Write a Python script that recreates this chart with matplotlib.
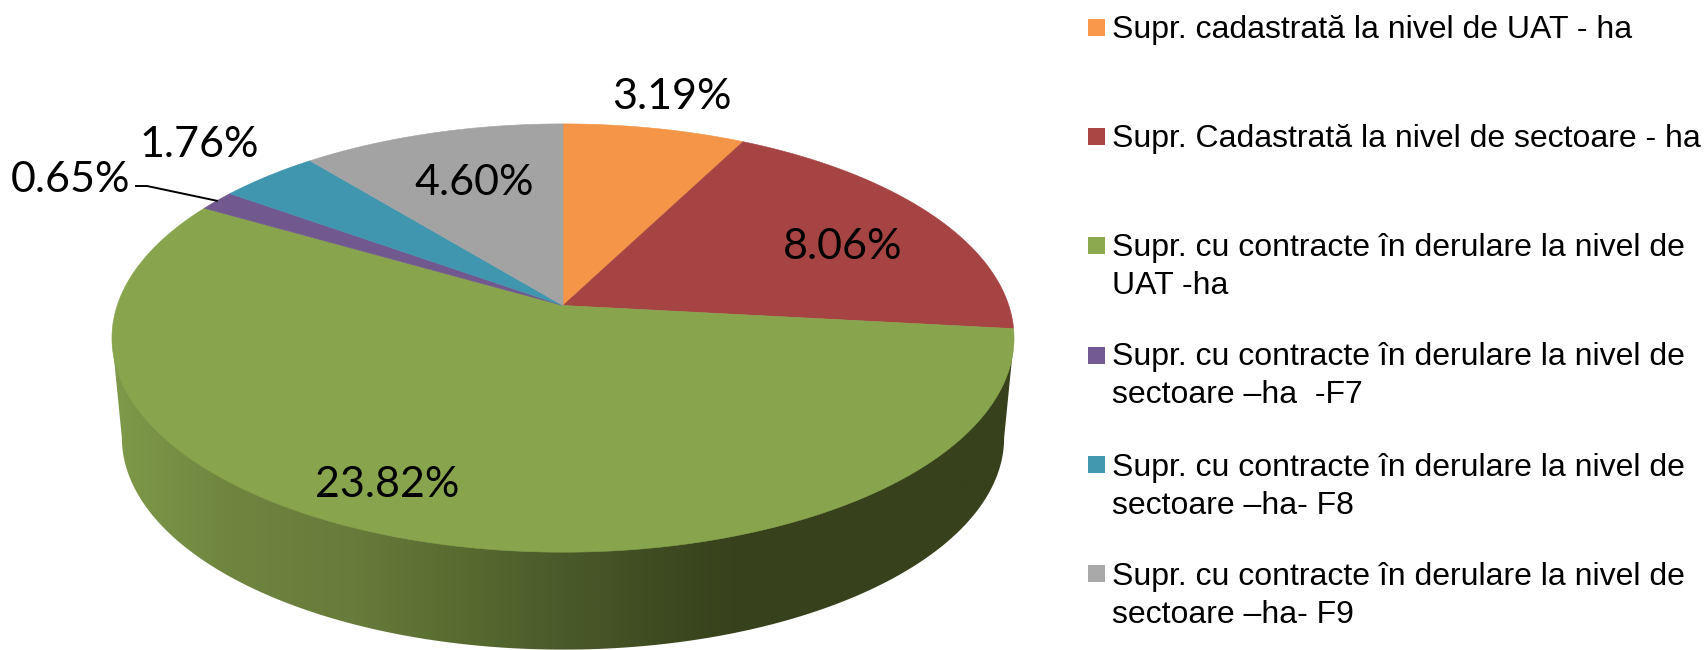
import numpy as np
import matplotlib
matplotlib.use('Agg')
import matplotlib.pyplot as plt
from matplotlib.colors import LinearSegmentedColormap
from matplotlib.patches import Polygon, Rectangle

# valori
values = [3.19, 8.06, 23.82, 0.65, 1.76, 4.60]
value_labels = ['3.19%', '8.06%', '23.82%', '0.65%', '1.76%', '4.60%']
legend_labels = [
    'Supr. cadastrată la nivel de UAT - ha',
    'Supr. Cadastrată la nivel de sectoare - ha',
    'Supr. cu contracte în derulare la nivel de\nUAT -ha',
    'Supr. cu contracte în derulare la nivel de\nsectoare –ha  -F7',
    'Supr. cu contracte în derulare la nivel de\nsectoare –ha- F8',
    'Supr. cu contracte în derulare la nivel de\nsectoare –ha- F9',
]

colors = ['#f59547', '#a64443', '#88a44d', '#71588f', '#4096ae', '#a3a3a3']
legend_colors = ['#f9984a', '#aa4644', '#8ca950', '#745a92', '#4198af', '#a9a9a9']

# pozitii in pixeli
label_xy = [(672, 97), (843, 247), (387, 485), (70, 180), (199, 145), (474, 183)]
legend_top = [19, 128, 237, 347, 456, 565]
legend_base = [38, 147, 256, 365, 476, 585]
line_step = 37.7

# geometria pie-ului (perspectiva)
cx = 563
persp = 0.152
top = dict(a=445.8, b=209.2, cy=305.5)
bottom = dict(a=436.0, b=207.0, cy=405.5)


def rim(t, a, b, cy):
    # t in radiani, in sensul acelor de ceas de la ora 12
    d = 1 + persp * np.cos(t)
    return cx + a * np.sin(t) / d, cy - b * np.cos(t) / d


fig = plt.figure(figsize=(17.05, 6.5), dpi=100)
ax = fig.add_axes([0, 0, 1, 1])
ax.set_xlim(0, 1705)
ax.set_ylim(650, 0)
ax.axis('off')

# peretele lateral cu gradient
t_side = np.linspace(np.arccos(-persp), 2 * np.pi - np.arccos(-persp), 300)
xs_low, ys_low = rim(t_side, **bottom)
xs_up, ys_up = rim(t_side[[0, -1]], **top)
side_xy = np.vstack([
    [xs_up[0], ys_up[0]],
    np.column_stack([xs_low, ys_low]),
    [xs_up[1], ys_up[1]],
])
side = Polygon(side_xy, closed=True, facecolor='none', edgecolor='none')
ax.add_patch(side)

side_stops = [(0.0, '#7f9a4a'), (0.13, '#6f853f'), (0.27, '#677b3b'), (0.40, '#566a30'),
              (0.50, '#4b5a2a'), (0.60, '#3f4c22'), (0.70, '#37411c'), (1.0, '#37411c')]
side_cmap = LinearSegmentedColormap.from_list('side', side_stops)
grad = np.linspace(0, 1, 512).reshape(1, -1)
im = ax.imshow(grad, cmap=side_cmap, aspect='auto', extent=(111, 1013, 650, 300), zorder=1)
im.set_clip_path(side)
ax.set_xlim(0, 1705)
ax.set_ylim(650, 0)

# felii
fractions = np.array(values) / sum(values)
edges = np.concatenate([[0], np.cumsum(fractions)]) * 2 * np.pi
for i, color in enumerate(colors):
    t = np.linspace(edges[i], edges[i + 1], 200)
    x, y = rim(t, **top)
    ax.fill(np.r_[cx, x], np.r_[top['cy'], y], facecolor=color, edgecolor=color, lw=0.4, zorder=2)

# etichete
for lab, (x, y) in zip(value_labels, label_xy):
    ax.text(x, y, lab, fontsize=31, family='Lato', color='black', ha='center', va='center', zorder=4)

# linia de ghidare pentru 0.65%
mid = (edges[3] + edges[4]) / 2
end_x, end_y = rim(mid, **top)
ax.plot([136, 147, end_x], [186, 186, end_y], color='black', lw=1.4, zorder=3)

# legenda
for lab, color, y0, base in zip(legend_labels, legend_colors, legend_top, legend_base):
    ax.add_patch(Rectangle((1088, y0), 17, 17, facecolor=color, edgecolor='none', zorder=3))
    for n, line in enumerate(lab.split('\n')):
        ax.text(1112.5, base + n * line_step, line, fontsize=23.0, family='Liberation Sans',
                color='black', ha='left', va='baseline')

fig.savefig('out.png', dpi=100, facecolor='white')
